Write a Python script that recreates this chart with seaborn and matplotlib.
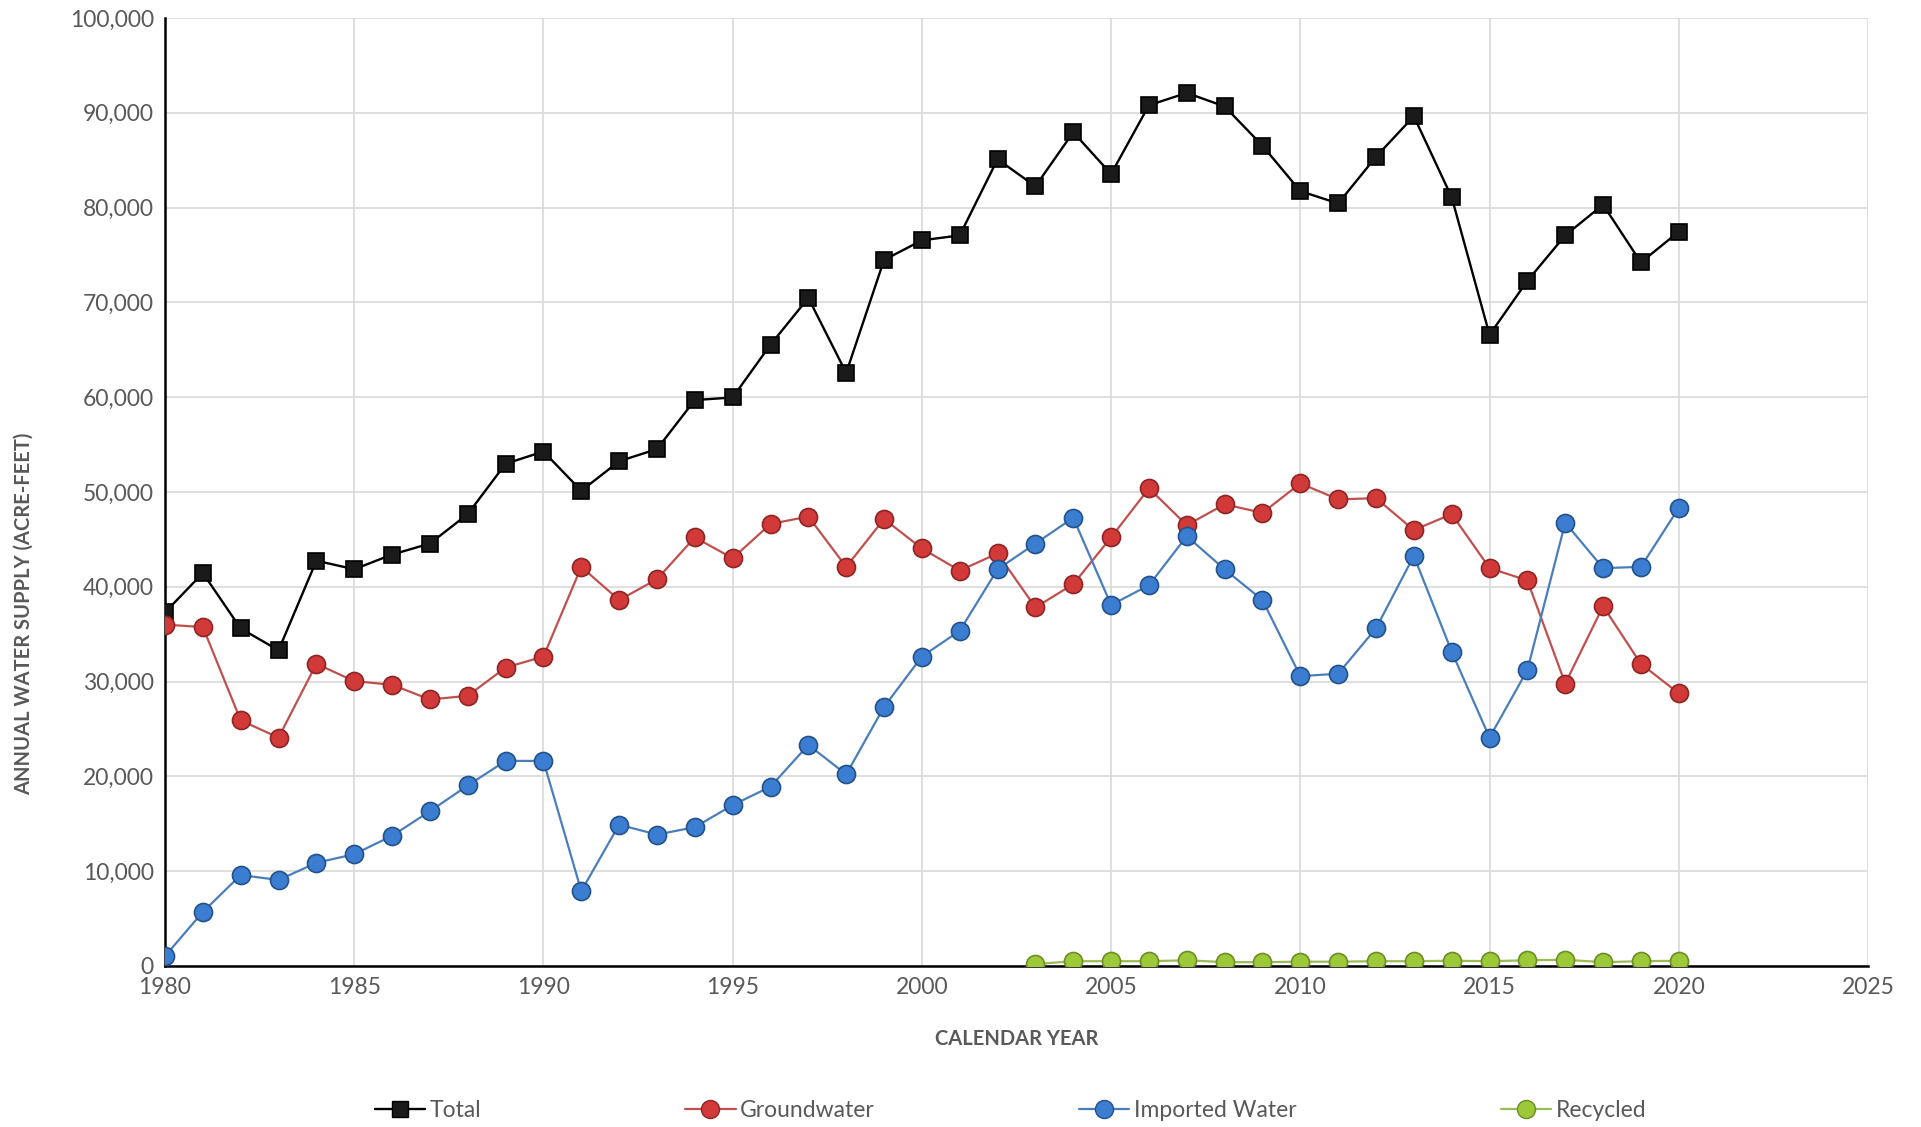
import numpy as np
import pandas as pd
import matplotlib
matplotlib.use("Agg")
import matplotlib.pyplot as plt
import matplotlib.ticker as mticker
import seaborn as sns

years = list(range(1980, 2021))

total = [37300, 41450, 35600, 33300, 42750, 41850, 43400, 44560, 47670, 52980,
         54270, 50130, 53240, 54530, 59700, 59970, 65540, 70470, 62560, 74480,
         76550, 77070, 85100, 82250, 87950, 83550, 90800, 92100, 90670, 86530,
         81740, 80440, 85360, 89640, 81090, 66580, 72280, 77070, 80310, 74220,
         77460]

groundwater = [36010, 35750, 25900, 24090, 31870, 30050, 29660, 28110, 28500, 31480,
               32640, 42100, 38600, 40800, 45210, 43010, 46630, 47410, 42100, 47150,
               44040, 41710, 43520, 37820, 40280, 45210, 50390, 46500, 48700, 47800,
               50910, 49220, 49350, 45980, 47670, 41970, 40670, 29790, 37950, 31870,
               28760]

imported = [1040, 5700, 9590, 9070, 10880, 11790, 13730, 16320, 19040, 21630,
            21630, 7900, 14900, 13860, 14640, 16970, 18910, 23320, 20210, 27330,
            32640, 35360, 41840, 44560, 47280, 38080, 40160, 45340, 41840, 38600,
            30570, 30830, 35620, 43260, 33160, 24090, 31220, 46760, 41970, 42100,
            48320]

recycled_years = list(range(2003, 2021))
recycled = [200, 500, 500, 500, 600, 400, 400, 450, 450, 500,
            500, 550, 500, 600, 650, 400, 500, 550]

series_names = ["Total", "Groundwater", "Imported Water", "Recycled"]

sns.set_theme(style="white")
plt.rcParams["font.family"] = ["Lato", "DejaVu Sans"]

fig = plt.figure(figsize=(19.21, 11.27), dpi=100)
ax = fig.add_axes([0.0859, 0.1429, 0.8865, 0.8411])

styles = {
    "Total": dict(color="#000000", marker="s", mfc="#1a1a1a", mec="#000000", ms=12, lw=1.7),
    "Groundwater": dict(color="#c0504d", marker="o", mfc="#d23a3a", mec="#8e2424", ms=13, lw=1.6),
    "Imported Water": dict(color="#4a7ebb", marker="o", mfc="#3b7dd0", mec="#23518a", ms=13, lw=1.6),
    "Recycled": dict(color="#9bbb59", marker="o", mfc="#9cc83a", mec="#6b8f22", ms=13, lw=1.6),
}

frames = [
    pd.DataFrame({"year": years, "value": total, "series": "Total"}),
    pd.DataFrame({"year": years, "value": groundwater, "series": "Groundwater"}),
    pd.DataFrame({"year": years, "value": imported, "series": "Imported Water"}),
    pd.DataFrame({"year": recycled_years, "value": recycled, "series": "Recycled"}),
]
data = pd.concat(frames, ignore_index=True)

handles = []
for name in series_names:
    st = styles[name]
    sub = data[data["series"] == name]
    sns.lineplot(data=sub, x="year", y="value", ax=ax, color=st["color"],
                 marker=st["marker"], markersize=st["ms"], markerfacecolor=st["mfc"],
                 markeredgecolor=st["mec"], markeredgewidth=1.2, linewidth=st["lw"],
                 legend=False, zorder=3)
    h, = ax.plot([], [], color=st["color"], marker=st["marker"], markersize=st["ms"],
                 markerfacecolor=st["mfc"], markeredgecolor=st["mec"],
                 linewidth=st["lw"], label=name)
    handles.append(h)

ax.set_xlim(1980, 2025)
ax.set_ylim(0, 100000)
ax.set_xticks(range(1980, 2026, 5))
ax.set_yticks(range(0, 100001, 10000))
ax.yaxis.set_major_formatter(mticker.FuncFormatter(lambda v, p: f"{int(v):,}"))

ax.grid(True, color="#d9d9d9", linewidth=1.2, zorder=0)
ax.set_axisbelow(True)
for side in ["top", "right"]:
    ax.spines[side].set_visible(False)
for side in ["left", "bottom"]:
    ax.spines[side].set_color("#000000")
    ax.spines[side].set_linewidth(1.8)

ax.tick_params(axis="both", labelsize=16.5, colors="#595959", length=0, pad=8)
for lbl in ax.get_xticklabels() + ax.get_yticklabels():
    lbl.set_color("#595959")

ax.set_xlabel("CALENDAR YEAR", fontsize=14.5, fontweight="bold", color="#595959", labelpad=22)
ax.set_ylabel("ANNUAL WATER SUPPLY (ACRE-FEET)", fontsize=14.5, fontweight="bold",
              color="#595959")
ax.yaxis.set_label_coords(-0.077, 0.372)

leg = fig.legend(handles=handles, labels=series_names, loc="center",
                 bbox_to_anchor=(0.526, 0.015), ncol=4, frameon=False,
                 fontsize=16.5, columnspacing=8.9, handlelength=2.2, handletextpad=0.2)
for t in leg.get_texts():
    t.set_color("#595959")

fig.savefig("out.png", dpi=100)
